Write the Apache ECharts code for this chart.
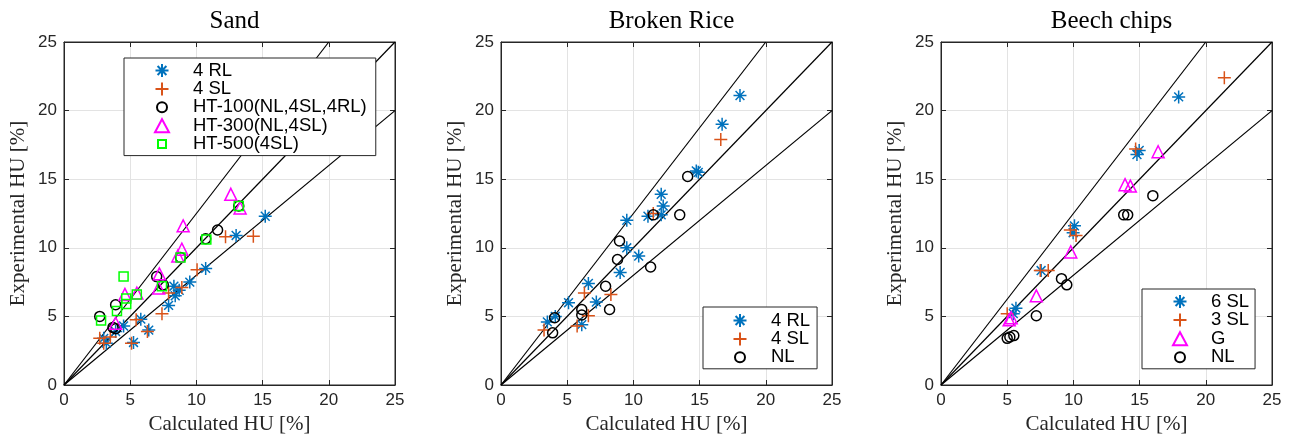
<!DOCTYPE html>
<html><head><meta charset="utf-8">
<script src="https://cdn.jsdelivr.net/npm/echarts@6/dist/echarts.min.js"></script>
<style>html,body{margin:0;padding:0;background:#fff}#c{width:1301px;height:440px}</style>
</head><body><div id="c"></div>
<script>
// ---- data ----
const titles = ['Sand', 'Broken Rice', 'Beech chips'];
const ticks = [0, 5, 10, 15, 20, 25];
const refSlopes = [1.25, 1, 0.8];

const sand4RL = [[15.2,12.3],[13.0,10.9],[10.7,8.5],[9.5,7.5],[8.3,7.2],[8.7,6.9],[8.4,6.5],[7.9,5.8],[6.4,4.0],[5.8,4.8],[5.25,3.1],[4.5,4.3],[3.9,3.9],[3.2,3.05],[3.0,3.4]];
const sand4SL = [[14.3,10.85],[12.2,10.8],[10.05,8.4],[8.9,7.1],[7.9,6.7],[7.4,5.2],[6.3,3.9],[5.45,4.75],[5.1,3.05],[3.0,3.05],[2.7,3.4],[3.5,3.5]];
const sandHT100 = [[13.2,13.05],[11.6,11.3],[10.7,10.66],[8.8,9.3],[7.5,7.3],[7.0,7.9],[3.9,5.85],[2.7,5.0],[3.9,4.1],[3.7,4.2]];
const sandHT300 = [[12.6,13.9],[13.3,12.9],[9.0,11.6],[8.9,9.9],[8.6,9.4],[7.2,8.1],[7.15,7.07],[5.5,6.7],[4.6,6.6],[3.9,4.5]];
const sandHT500 = [[13.2,13.05],[10.75,10.6],[8.8,9.3],[7.4,7.2],[4.5,7.9],[5.5,6.6],[4.7,6.3],[4.7,5.9],[4.0,5.4],[2.8,4.7]];

const rice4RL = [[18.05,21.1],[16.7,19.0],[14.75,15.6],[14.9,15.5],[12.1,13.9],[12.25,13.05],[12.1,12.4],[11.1,12.3],[9.5,12.0],[9.5,10.0],[10.4,9.4],[9.0,8.2],[6.6,7.4],[7.2,6.05],[5.1,6.0],[6.1,4.4],[4.1,5.0],[3.5,4.6]];
const rice4SL = [[16.6,17.9],[11.5,12.5],[8.3,6.6],[6.3,6.7],[6.6,5.05],[5.75,4.3],[3.25,4.0]];
const riceNL = [[14.1,15.2],[11.5,12.4],[13.5,12.4],[8.95,10.5],[8.8,9.15],[11.3,8.6],[7.9,7.2],[8.2,5.5],[6.1,5.5],[6.1,5.1],[4.05,4.9],[3.9,3.8]];

const beech6SL = [[17.95,21.0],[14.8,16.8],[14.97,17.1],[10.08,11.6],[9.98,11.1],[7.56,8.34],[5.66,5.6],[5.46,5.2]];
const beech3SL = [[21.4,22.4],[14.7,17.2],[9.77,11.3],[10.2,10.9],[8.1,8.34],[7.5,8.34],[5.0,5.2]];
const beechG = [[16.4,17.0],[13.9,14.6],[14.3,14.5],[9.8,9.7],[7.2,6.5],[5.3,4.9],[5.15,4.75]];
const beechNL = [[16.0,13.8],[13.8,12.4],[14.1,12.4],[9.1,7.75],[9.5,7.3],[7.2,5.05],[5.5,3.6],[5.2,3.5],[5.0,3.4]];

// ---- styling ----
const STAR = 'path://M5,0L5,10M0,5L10,5M1.6,1.6L8.4,8.4M1.6,8.4L8.4,1.6';
const PLUS = 'path://M5,0L5,10M0,5L10,5';
const LEG_CIRC = 'path://M0,0L0.01,0M13,13L12.99,13M1.5,6.5A5,5,0,1,1,11.5,6.5A5,5,0,1,1,1.5,6.5Z';
const LEG_SQ = 'path://M0,0L0.01,0M13,13L12.99,13M2.5,2.5L10.5,2.5L10.5,10.5L2.5,10.5Z';
const C = {blue:'#0072BD', orange:'#D95319', black:'#000000', mag:'#FF00FF', green:'#00FF00'};
const kinds = {
  star:{symbol:STAR,size:13,color:C.blue},
  plus:{symbol:PLUS,size:13,color:C.orange},
  circ:{symbol:'circle',size:10,color:C.black,legIcon:LEG_CIRC},
  tri:{symbol:'triangle',size:12,color:C.mag},
  sq:{symbol:'rect',size:9,color:C.green,legIcon:LEG_SQ}
};
const panels = [
  {left:64, series:[['4 RL',sand4RL,'star'],['4 SL',sand4SL,'plus'],['HT-100(NL,4SL,4RL)',sandHT100,'circ'],['HT-300(NL,4SL)',sandHT300,'tri'],['HT-500(4SL)',sandHT500,'sq']],
   legend:{left:124, top:58, gap:18.3, pad:[3,9,2,30]}},
  {left:501, series:[['4 RL',rice4RL,'star'],['4 SL',rice4SL,'plus'],['NL',riceNL,'circ']],
   legend:{left:703, top:307, gap:18.3, pad:[4,7,2,29.5]}},
  {left:941, series:[['6 SL',beech6SL,'star'],['3 SL',beech3SL,'plus'],['G',beechG,'tri'],['NL',beechNL,'circ']],
   legend:{left:1142, top:289, gap:18.5, pad:[3,6,2,30]}}
];
const W = 331, TOP = 42, H = 343;
const sans = 'Liberation Sans, Arial, sans-serif';
const tickFont = {fontFamily:sans, fontSize:17, color:'#262626'};
const serif = 'Liberation Serif, Times New Roman, serif';
const N = panels.length;

const grid = [], xAxis = [], yAxis = [], series = [], legend = [], title = [];
const axLine = {show:true, onZero:false, lineStyle:{color:'#262626', width:1}};
const axTick = {show:true, inside:true, length:5, lineStyle:{color:'#262626'}};
panels.forEach((p, i) => {
  grid.push({left:p.left, top:TOP, width:W, height:H, show:true, borderColor:'#262626', borderWidth:1, backgroundColor:'rgba(0,0,0,0)'});
  title.push({text:titles[i], left:p.left + W/2, top:4, textAlign:'center',
    textStyle:{fontFamily:serif, fontSize:25, fontWeight:'normal', color:'#000'}});
  xAxis.push({type:'value', min:0, max:25, interval:5, gridIndex:i, position:'bottom',
    axisLine:axLine, axisTick:axTick,
    name:'Calculated HU [%]', nameLocation:'middle', nameGap:27,
    nameTextStyle:{fontFamily:serif, fontSize:21, color:'#262626'},
    axisLabel:Object.assign({margin:7}, tickFont),
    splitLine:{show:true, lineStyle:{color:'#e3e3e3', width:1}}});
  yAxis.push({type:'value', min:0, max:25, interval:5, gridIndex:i, position:'left',
    axisLine:axLine, axisTick:axTick,
    name:'Experimental HU [%]', nameLocation:'middle', nameGap:35,
    nameTextStyle:{fontFamily:serif, fontSize:21, color:'#262626'},
    axisLabel:Object.assign({margin:7}, tickFont),
    splitLine:{show:true, lineStyle:{color:'#e3e3e3', width:1}}});

  refSlopes.forEach(s => {
    const xe = Math.min(25, 25 / s);
    series.push({type:'line', xAxisIndex:i, yAxisIndex:i, data:[[0,0],[xe, xe*s]],
      symbol:'none', silent:true, lineStyle:{color:'#000', width:1.2}, z:1});
  });
  const names = [];
  p.series.forEach(([name, data, k]) => {
    const kd = kinds[k];
    names.push(kd.legIcon ? {name:name, icon:kd.legIcon} : {name:name});
    series.push({type:'scatter', name:name, xAxisIndex:i, yAxisIndex:i, data:data,
      symbol:kd.symbol, symbolSize:kd.size,
      itemStyle:{color:'rgba(0,0,0,0)', borderColor:kd.color, borderWidth:1.5, opacity:1},
      z:3});
  });
  legend.push({data:names, orient:'vertical', left:p.legend.left, top:p.legend.top,
    itemWidth:14, itemHeight:13, itemGap:p.legend.gap - 18.9,
    padding:p.legend.pad, borderColor:'#262626', borderWidth:1, backgroundColor:'#fff',
    textStyle:{fontFamily:sans, fontSize:18.5, lineHeight:18, color:'#000', padding:[0,0,0,19]},
    selectedMode:false, inactiveColor:'#000', z:10});
});
// mirror grids for the top / right boxed axes with inward ticks
panels.forEach((p, i) => {
  const g = N + i;
  grid.push({left:p.left, top:TOP, width:W, height:H, show:false});
  xAxis.push({type:'value', min:0, max:25, interval:5, gridIndex:g, position:'top',
    axisLine:axLine, axisTick:axTick, axisLabel:{show:false}, splitLine:{show:false}});
  yAxis.push({type:'value', min:0, max:25, interval:5, gridIndex:g, position:'right',
    axisLine:axLine, axisTick:axTick, axisLabel:{show:false}, splitLine:{show:false}});
  series.push({type:'scatter', xAxisIndex:g, yAxisIndex:g, data:[], silent:true});
});

const chart = echarts.init(document.getElementById('c'), null, {renderer:'canvas'});
chart.setOption({animation:false, backgroundColor:'#fff', title, grid, xAxis, yAxis, series, legend});
</script></body></html>
